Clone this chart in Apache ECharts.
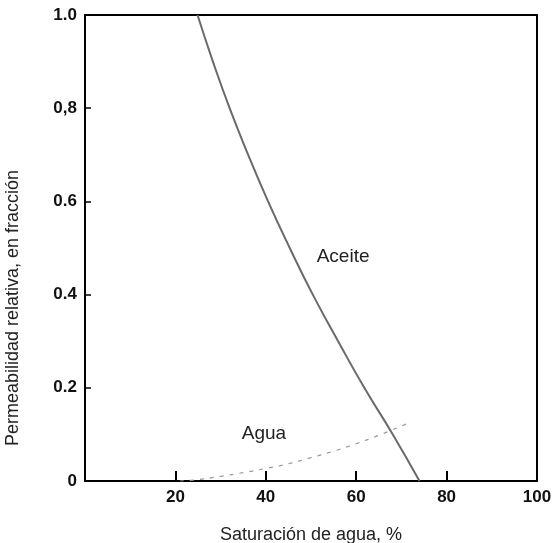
<!DOCTYPE html>
<html>
<head>
<meta charset="utf-8">
<script src="https://cdn.jsdelivr.net/npm/echarts@6/dist/echarts.min.js"></script>
<style>
html,body{margin:0;padding:0;background:#fff;}
#chart{width:555px;height:543px;}
</style>
</head>
<body>
<div id="chart"></div>
<script>
// Oil relative permeability (Aceite): [water saturation %, kr]
var aceiteSw = [24.9, 28.3, 32.0, 36.1, 40.5, 45.3, 50.4, 56.0, 61.8, 68.1, 74.0];
var aceiteKr = [1.0, 0.9, 0.8, 0.7, 0.6, 0.5, 0.4, 0.3, 0.2, 0.1, 0.0];
// Water relative permeability (Agua)
var aguaSw = [21.0, 25.0, 30.0, 35.0, 40.0, 45.0, 50.0, 55.0, 60.0, 65.0, 71.0];
var aguaKr = [0.0, 0.003, 0.01, 0.018, 0.027, 0.037, 0.05, 0.064, 0.08, 0.098, 0.122];
// Tick labels
var yTickLabels = {'0': '0', '0.2': '0.2', '0.4': '0.4', '0.6': '0.6', '0.8': '0,8', '1': '1.0'};
var curveLabels = ['Aceite', 'Agua'];

function pairs(xs, ys) { return xs.map(function (x, i) { return [x, ys[i]]; }); }

var labelStyle = {show: true, position: 'inside', fontFamily: 'Liberation Sans', fontSize: 19, color: '#222'};

var chart = echarts.init(document.getElementById('chart'), null, {renderer: 'canvas'});
chart.setOption({
  animation: false,
  backgroundColor: '#fff',
  grid: {left: 85, top: 15, right: 18, bottom: 62, outerBoundsMode: 'none', containLabel: false,
    show: true, borderColor: '#000', borderWidth: 2, backgroundColor: 'transparent'},
  xAxis: {
    type: 'value', min: 0, max: 100, interval: 20,
    name: 'Saturación de agua, %', nameLocation: 'middle', nameGap: 45,
    nameTextStyle: {fontFamily: 'Liberation Sans', fontSize: 18, color: '#222'},
    axisLine: {lineStyle: {color: '#000', width: 2}},
    axisTick: {inside: true, length: 10, lineStyle: {color: '#000', width: 2}},
    axisLabel: {fontFamily: 'Liberation Sans', fontWeight: 'bold', fontSize: 17, color: '#111', margin: 8,
      formatter: function (v) { return v === 0 ? '' : String(v); }},
    splitLine: {show: false}
  },
  yAxis: {
    type: 'value', min: 0, max: 1, interval: 0.2,
    name: 'Permeabilidad relativa, en fracción', nameLocation: 'middle', nameGap: 63,
    nameTextStyle: {fontFamily: 'Liberation Sans', fontSize: 18, color: '#222', padding: [0, 120, 0, 0]},
    axisLine: {lineStyle: {color: '#000', width: 2}},
    axisTick: {inside: true, length: 6, lineStyle: {color: '#000', width: 1.5}},
    axisLabel: {fontFamily: 'Liberation Sans', fontWeight: 'bold', fontSize: 17, color: '#111', margin: 8,
      formatter: function (v) { var k = String(Math.round(v * 10) / 10); return yTickLabels[k] !== undefined ? yTickLabels[k] : k; }},
    splitLine: {show: false}
  },
  series: [
    {
      name: curveLabels[0], type: 'line', smooth: true, symbol: 'none',
      data: pairs(aceiteSw, aceiteKr),
      lineStyle: {color: '#6a6a6a', width: 2},
      markPoint: {symbol: 'circle', symbolSize: 1, itemStyle: {color: 'rgba(0,0,0,0)'},
        data: [{coord: [57.1, 0.482], value: 0}],
        label: Object.assign({formatter: curveLabels[0]}, labelStyle)}
    },
    {
      name: curveLabels[1], type: 'line', smooth: true, symbol: 'none',
      data: pairs(aguaSw, aguaKr),
      lineStyle: {color: '#999', width: 1.2, type: [4, 6]},
      markPoint: {symbol: 'circle', symbolSize: 1, itemStyle: {color: 'rgba(0,0,0,0)'},
        data: [{coord: [39.6, 0.101], value: 0}],
        label: Object.assign({formatter: curveLabels[1]}, labelStyle)}
    }
  ]
});
</script>
</body>
</html>
